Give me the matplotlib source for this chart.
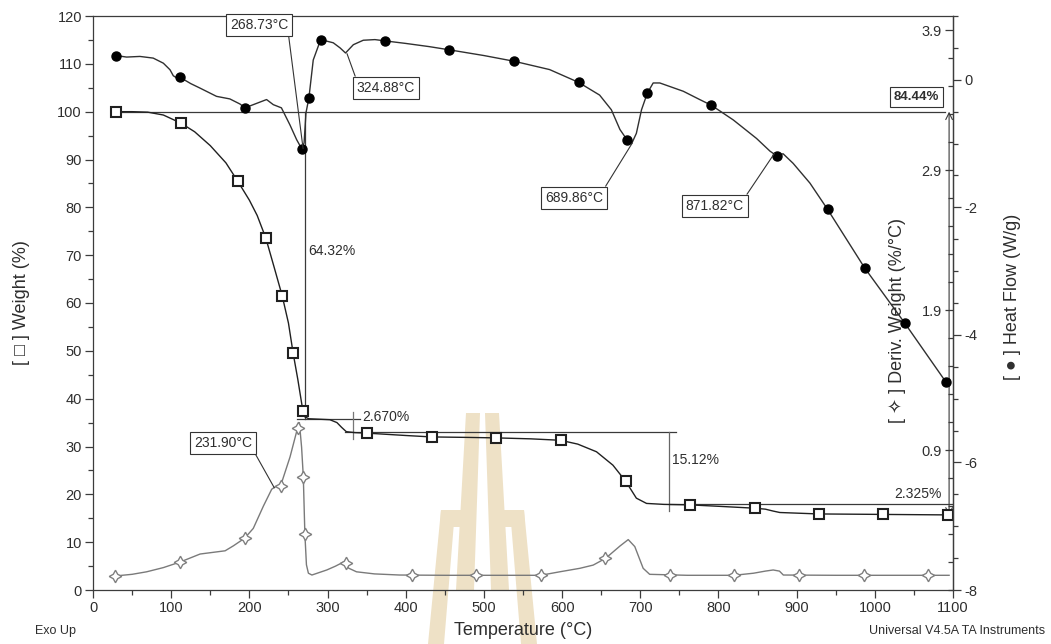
import numpy as np
import matplotlib
matplotlib.use("Agg")
import matplotlib.pyplot as plt
from matplotlib.patches import Polygon
from matplotlib.ticker import FixedLocator, MultipleLocator

plt.rcParams['font.family'] = ['Liberation Sans', 'DejaVu Sans']

# ---------------- data ----------------
# Weight (%) curve
weight_T = [29.4, 50, 70, 90, 112.5, 130, 150, 170, 185, 200, 210, 221, 232, 242, 250, 256, 262,
            268.5, 271, 276, 290, 303, 312, 318, 324, 335, 350, 400, 433, 480, 516, 560, 598, 620,
            644, 665, 681.5, 695, 708, 730, 763, 800, 846.5, 860, 870, 878.5, 928, 1011, 1093, 1096]
weight_W = [100.0, 100.0, 99.9, 99.3, 97.6, 95.8, 92.9, 89.3, 85.5, 81.5, 78.3, 73.6, 67.3, 61.5,
            55.8, 49.5, 44.0, 37.4, 36.2, 35.8, 35.7, 35.6, 35.0, 34.0, 33.1, 32.9, 32.8, 32.3,
            32.0, 31.9, 31.8, 31.6, 31.3, 30.5, 28.9, 26.1, 22.7, 19.2, 18.1, 17.9, 17.8, 17.5,
            17.1, 16.9, 16.5, 16.2, 15.9, 15.8, 15.7, 15.65]
weight_mark_T = [29.4, 112.5, 185, 221, 242, 256, 268.5, 350, 433, 516, 598, 681.5, 763, 846.5,
                 928, 1011, 1093]
weight_mark_W = [100, 97.6, 85.5, 73.6, 61.5, 49.5, 37.4, 32.8, 32.0, 31.8, 31.3, 22.7, 17.8,
                 17.1, 15.9, 15.8, 15.7]

# Deriv. Weight (%/°C) curve
deriv_T = [28, 50, 68.6, 90, 111.5, 137, 169, 179.7, 194, 205, 218, 228.6, 234, 240, 252, 261.8,
           264, 266.8, 269, 271, 273, 275.5, 280, 299, 310, 320.5, 327, 337, 360, 392, 450, 520,
           572.5, 597, 622.8, 639.8, 655.6, 674, 684.6, 693, 703.7, 712, 760, 820, 845, 860, 870,
           878, 883, 950, 1095]
deriv_D = [0.0, 0.012, 0.03, 0.06, 0.10, 0.157, 0.18, 0.216, 0.27, 0.34, 0.50, 0.62, 0.64, 0.645,
           0.85, 1.06, 1.095, 0.92, 0.71, 0.30, 0.08, 0.02, 0.007, 0.043, 0.07, 0.10, 0.056, 0.03,
           0.015, 0.007, 0.005, 0.005, 0.005, 0.03, 0.055, 0.078, 0.126, 0.214, 0.26, 0.21, 0.055,
           0.012, 0.005, 0.005, 0.02, 0.035, 0.043, 0.035, 0.007, 0.005, 0.005]
deriv_mark_T = [28, 111.5, 194, 240, 262, 269, 271, 324, 407.5, 490, 572.5, 655.5, 738, 820, 903,
                986, 1068]
deriv_mark_D = [0.0, 0.10, 0.27, 0.645, 1.06, 0.71, 0.30, 0.09, 0.005, 0.005, 0.005, 0.126, 0.005,
                0.005, 0.005, 0.005, 0.005]

# Heat Flow (W/g) curve
heat_T = [29.4, 43, 60, 77, 90, 98.5, 102.7, 105.7, 111.7, 125, 136.8, 158, 175, 188, 194.4, 205,
          222, 230.6, 241, 252, 260.5, 266.9, 270, 272.4, 276.2, 281.7, 291.2, 307.3, 316, 323,
          333, 345.7, 360.6, 373.4, 400, 430, 455.6, 500, 538.8, 584, 621, 648, 663, 674, 683,
          689, 695, 701.6, 709, 716.5, 725, 755, 776, 791, 819, 848.7, 866, 874.3, 882.7, 895.5,
          917, 939.5, 987, 1038, 1091, 1095]
heat_HF = [0.38, 0.356, 0.366, 0.34, 0.26, 0.157, 0.063, 0.04, 0.036, -0.06, -0.13, -0.26, -0.30,
           -0.38, -0.44, -0.39, -0.31, -0.39, -0.44, -0.71, -0.94, -1.08, -0.99, -0.52, -0.28,
           0.31, 0.63, 0.58, 0.50, 0.42, 0.55, 0.62, 0.63, 0.61, 0.57, 0.52, 0.47, 0.38, 0.29,
           0.16, -0.04, -0.24, -0.47, -0.78, -0.94, -1.0, -0.84, -0.47, -0.21, -0.05, -0.05,
           -0.18, -0.31, -0.40, -0.63, -0.92, -1.12, -1.19, -1.16, -1.31, -1.62, -2.03, -2.95,
           -3.81, -4.74, -4.80]
heat_mark_T = [29.4, 111.7, 194.4, 266.9, 276.2, 291.2, 373.4, 455.6, 538.8, 621, 683, 709, 791,
               874.3, 939.5, 987, 1038, 1091]
heat_mark_HF = [0.38, 0.036, -0.44, -1.08, -0.28, 0.63, 0.61, 0.47, 0.29, -0.04, -0.94, -0.21,
                -0.40, -1.19, -2.03, -2.95, -3.81, -4.74]

# Step analysis (weight losses, %)
loss_steps = [64.32, 2.670, 15.12, 2.325]
loss_labels = ["64.32%", "2.670%", "15.12%", "2.325%"]
residue_label = "84.44%"

# Peak annotations
heat_peaks = [(268.73, -1.08, "268.73°C"), (324.88, 0.41, "324.88°C"),
              (689.86, -0.99, "689.86°C"), (871.82, -1.15, "871.82°C")]
deriv_peaks = [(231.90, 0.63, "231.90°C")]

x_ticks = list(range(0, 1101, 100))
w_ticks = list(range(0, 121, 10))
d_ticks = [0.9, 1.9, 2.9, 3.9]
hf_ticks = [-8, -6, -4, -2, 0]

# ---------------- figure ----------------
W, H = 1051, 644
fig = plt.figure(figsize=(W / 100, H / 100), dpi=100)
ax = fig.add_axes([93 / W, 1 - 590 / H, 860 / W, 574 / H])
ax.patch.set_alpha(0)
ax2 = ax.twinx()
ax3 = ax.twinx()

AXC = '#3c3c3c'
TXT = '#2e2e2e'

# watermark (decoration)
WM = [
    [(466, 413), (480, 413), (474, 590), (456, 590)],
    [(485, 413), (499, 413), (509, 590), (491, 590)],
    [(441, 510), (455, 510), (444, 644), (428, 644)],
    [(510, 510), (524, 510), (537, 644), (521, 644)],
    [(441, 510), (471, 510), (470, 527), (440, 527)],
    [(494, 510), (524, 510), (525, 527), (495, 527)],
]
for poly in WM:
    pts = [(px / W, 1 - py / H) for px, py in poly]
    fig.patches.append(Polygon(pts, closed=True, transform=fig.transFigure,
                               facecolor='#eee1c6', edgecolor='none', zorder=-5))

# curves
ax.plot(weight_T, weight_W, color='#202020', lw=1.0, zorder=3)
ax.plot(weight_mark_T, weight_mark_W, ls='none', marker='s', ms=7.5, mfc='white',
        mec='#202020', mew=1.5, zorder=4)

ax2.plot(deriv_T, deriv_D, color='#7a7a7a', lw=1.0, zorder=3)
ax2.plot(deriv_mark_T, deriv_mark_D, ls='none', marker=(4, 1, 0), ms=9, mfc='white',
         mec='#808080', mew=1.0, zorder=4)

ax3.plot(heat_T, heat_HF, color='#303030', lw=1.0, zorder=3)
ax3.plot(heat_mark_T, heat_mark_HF, ls='none', marker='o', ms=6.5, mfc='black',
         mec='black', zorder=4)

# limits
ax.set_xlim(0, 1100)
ax.set_ylim(0, 120)
ax2.set_ylim(-0.1, 4.0)
ax3.set_ylim(-8, 1.0)

# step lines
levels = 100 - np.cumsum(loss_steps)
LC = '#3a3a3a'
LW = 0.9
ax.plot([30, 1090], [100, 100], color=LC, lw=LW, zorder=2)
ax.plot([271, 271], [100, levels[0]], color=LC, lw=LW, zorder=2)
ax.plot([261, 342], [levels[0], levels[0]], color=LC, lw=LW, zorder=2)
ax.plot([332, 332], [levels[1] - 1.5, levels[0] + 1.6], color='#777777', lw=LW, zorder=2)
ax.plot([322, 746], [levels[1], levels[1]], color=LC, lw=LW, zorder=2)
ax.plot([737, 737], [levels[1], levels[2] - 1.3], color='#666666', lw=LW, zorder=2)
ax.plot([737, 1100], [levels[2], levels[2]], color=LC, lw=LW, zorder=2)
ax.annotate('', xy=(1095, 100), xytext=(1095, levels[3]),
            arrowprops=dict(arrowstyle='<->', lw=0.8, color=LC, shrinkA=0, shrinkB=0,
                            mutation_scale=12), zorder=2)

fs_ann = 10
ax.text(275, 70.9, loss_labels[0], fontsize=fs_ann, color=TXT, ha='left', va='center')
ax.text(344, 36.2, loss_labels[1], fontsize=fs_ann, color=TXT, ha='left', va='center')
ax.text(740, 27.2, loss_labels[2], fontsize=fs_ann, color=TXT, ha='left', va='center')
ax.text(1086, 20.0, loss_labels[3], fontsize=fs_ann, color=TXT, ha='right', va='center')
ax.text(1053, 103.0, residue_label, fontsize=9.5, fontweight='bold', color=TXT,
        ha='center', va='center',
        bbox=dict(boxstyle='square,pad=0.3', fc='white', ec='#333333', lw=0.8))

# peak annotations
box = dict(boxstyle='square,pad=0.3', fc='white', ec='#333333', lw=0.8)
heat_text_pos = [(212.3, 0.863, (1, 0)), (374.7, -0.125, (0, 1)),
                 (615, -1.85, (1, 1)), (795.4, -1.976, (1, 1))]
for (tx, ty, rp), (px, py, lab) in zip(heat_text_pos, heat_peaks):
    ax3.annotate(lab, xy=(px, py), xytext=(tx, ty), fontsize=fs_ann, color=TXT,
                 ha='center', va='center', bbox=box,
                 arrowprops=dict(arrowstyle='-', color='#333333', lw=0.8, shrinkA=0,
                                 shrinkB=0, relpos=rp), zorder=6)
for (px, py, lab) in deriv_peaks:
    ax2.annotate(lab, xy=(px, py), xytext=(166.2, 0.95), fontsize=fs_ann, color=TXT,
                 ha='center', va='center', bbox=box,
                 arrowprops=dict(arrowstyle='-', color='#333333', lw=0.8, shrinkA=0,
                                 shrinkB=0, relpos=(1, 0.15)), zorder=6)

# ---------------- axes styling ----------------
for a in (ax, ax2, ax3):
    for s in a.spines.values():
        s.set_color(AXC)
        s.set_linewidth(0.9)

ax.spines['right'].set_visible(False)
ax.set_xticks(x_ticks)
ax.xaxis.set_minor_locator(MultipleLocator(50))
ax.set_yticks(w_ticks)
ax.yaxis.set_minor_locator(MultipleLocator(5))
ax.tick_params(axis='both', which='major', length=6, width=0.9, color=AXC,
               labelsize=10.5, labelcolor=TXT, pad=2)
ax.tick_params(axis='both', which='minor', length=3.5, width=0.9, color=AXC)
ax.tick_params(axis='x', top=False)

# deriv axis: spine on the right, ticks and labels inside
for k in ('top', 'bottom', 'right'):
    ax2.spines[k].set_visible(False)
ax2.spines['left'].set_position(('axes', 1.0))
ax2.yaxis.tick_left()
ax2.yaxis.set_label_position('left')
ax2.yaxis.set_major_locator(FixedLocator(d_ticks))
ax2.yaxis.set_minor_locator(FixedLocator(list(np.round(np.arange(-0.1, 4.01, 0.2), 2))))
ax2.set_yticklabels([f"{v:.1f}" for v in d_ticks])
ax2.tick_params(axis='y', which='major', length=6, width=0.9, color=AXC, labelsize=10.5,
                labelcolor=TXT, pad=2)
ax2.tick_params(axis='y', which='minor', length=3.5, width=0.9, color=AXC)
ax2.set_ylabel("[ \u2727 ] Deriv. Weight (%/°C)", fontsize=13, color=TXT)
ax2.yaxis.set_label_coords(0.945, 0.47)

# heat flow axis
for k in ('top', 'bottom', 'left'):
    ax3.spines[k].set_visible(False)
ax3.yaxis.set_major_locator(FixedLocator(hf_ticks))
ax3.yaxis.set_minor_locator(MultipleLocator(0.5))
ax3.set_yticklabels([f"{v:d}" for v in hf_ticks])
ax3.tick_params(axis='y', which='major', length=6, width=0.9, color=AXC, labelsize=10.5,
                labelcolor=TXT, pad=2)
ax3.tick_params(axis='y', which='minor', length=3.5, width=0.9, color=AXC)
ax3.set_ylabel("[ \u25cf ] Heat Flow (W/g)", fontsize=13, color=TXT)
ax3.yaxis.set_label_coords(1.0595, 0.51)

ax.set_xlabel("Temperature (°C)", fontsize=13, color=TXT)
ax.xaxis.set_label_coords(0.5, -0.055)
ax.set_ylabel("[ \u25a1 ] Weight (%)", fontsize=13, color=TXT)
ax.yaxis.set_label_coords(-0.073, 0.5)

fig.text(35 / W, 1 - 631 / H, "Exo Up", fontsize=9, color=TXT, ha='left', va='center')
fig.text(1045 / W, 1 - 631 / H, "Universal V4.5A TA Instruments", fontsize=9, color=TXT,
         ha='right', va='center')

fig.savefig("out.png", dpi=100)
